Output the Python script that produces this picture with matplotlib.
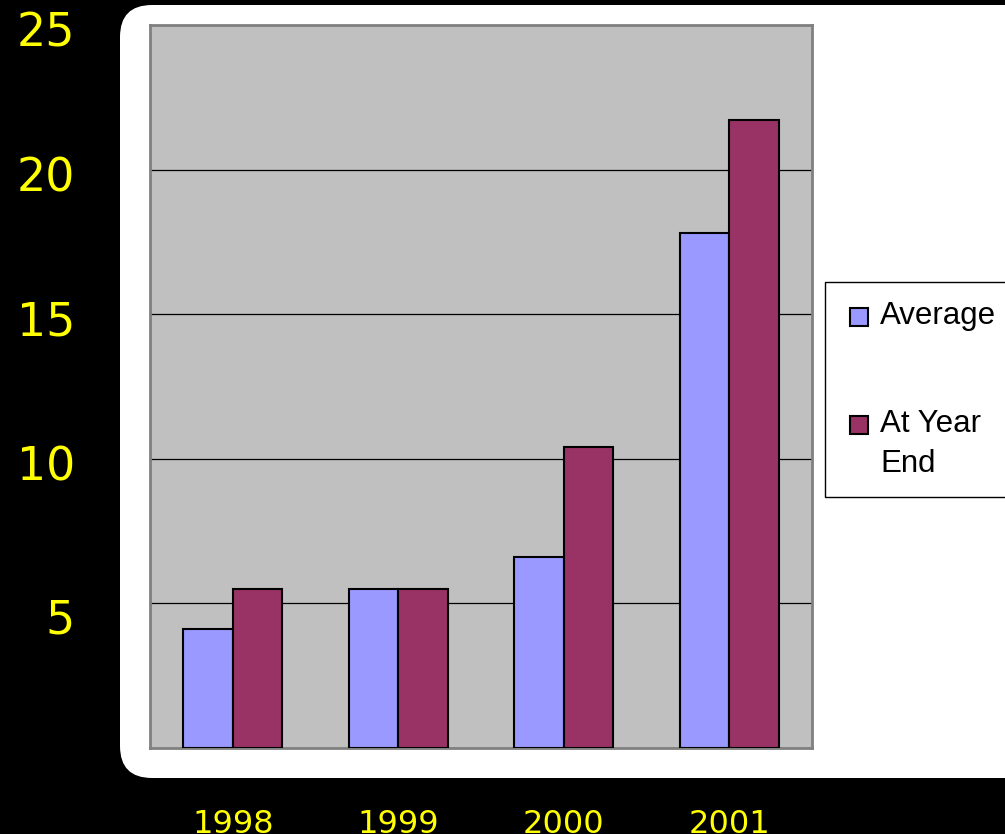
import matplotlib.pyplot as plt
from matplotlib.patches import FancyBboxPatch, Rectangle
from matplotlib.transforms import IdentityTransform, ScaledTranslation
import numpy as np

years = ["1998", "1999", "2000", "2001"]
average = [4.1, 5.5, 6.6, 17.8]
year_end = [5.5, 5.5, 10.4, 21.7]
y_ticks = [5, 10, 15, 20, 25]
series_names = ["Average", "At Year\nEnd"]
series_colors = ["#9999FF", "#993366"]

W, H = 1005, 834
fig = plt.figure(figsize=(W / 100, H / 100), dpi=100, facecolor="black")
px = IdentityTransform()

# white rounded panel behind the chart (pixel coords, origin bottom-left)
panel = FancyBboxPatch((120, H - 778), 960, 773, boxstyle="round,pad=0,rounding_size=32",
                       transform=px, facecolor="white", edgecolor="none", zorder=-5)
fig.patches.append(panel)

ax = fig.add_axes([150 / W, (H - 748) / H, 662 / W, 723 / H])
ax.set_facecolor("#C0C0C0")

x = np.arange(len(years))
w = 0.3
ax.bar(x - w / 2, average, w, color=series_colors[0], edgecolor="black", linewidth=1.5, zorder=3)
ax.bar(x + w / 2, year_end, w, color=series_colors[1], edgecolor="black", linewidth=1.5, zorder=3)

ax.set_xlim(-0.5, 3.5)
ax.set_ylim(0, 25)
ax.set_yticks(y_ticks)
ax.set_xticks(x)
ax.set_xticklabels(years)
ax.yaxis.grid(True, color="black", linewidth=0.9, zorder=1)
ax.set_axisbelow(True)
ax.tick_params(axis="y", length=0, pad=54, labelsize=33, labelcolor="#FFFF00")
ax.tick_params(axis="x", length=0, pad=44, labelsize=23, labelcolor="#FFFF00")
for s in ax.spines.values():
    s.set_color("#808080")
    s.set_linewidth(2)

# y labels sit a little below their gridlines in the original
for lab in ax.get_yticklabels():
    dy = -13 if lab.get_text() == "5" else -4
    lab.set_transform(lab.get_transform() + ScaledTranslation(0, dy / 100, fig.dpi_scale_trans))

# legend box, handle aligned with the first line of each label
fig.patches.append(Rectangle((825, H - 497), 300, 215, transform=px, facecolor="white",
                             edgecolor="black", linewidth=1, zorder=2))
for name, col, top in zip(series_names, series_colors, [304, 412]):
    fig.patches.append(Rectangle((850, H - top - 22), 18, 18, transform=px, facecolor=col,
                                 edgecolor="black", linewidth=1.5, zorder=3))
    fig.text(880 / W, 1 - (top - 3) / H, name, fontsize=22.5, family="Liberation Sans",
             va="top", ha="left", linespacing=1.45, zorder=4)

fig.savefig("out.png", dpi=100, facecolor="black")
